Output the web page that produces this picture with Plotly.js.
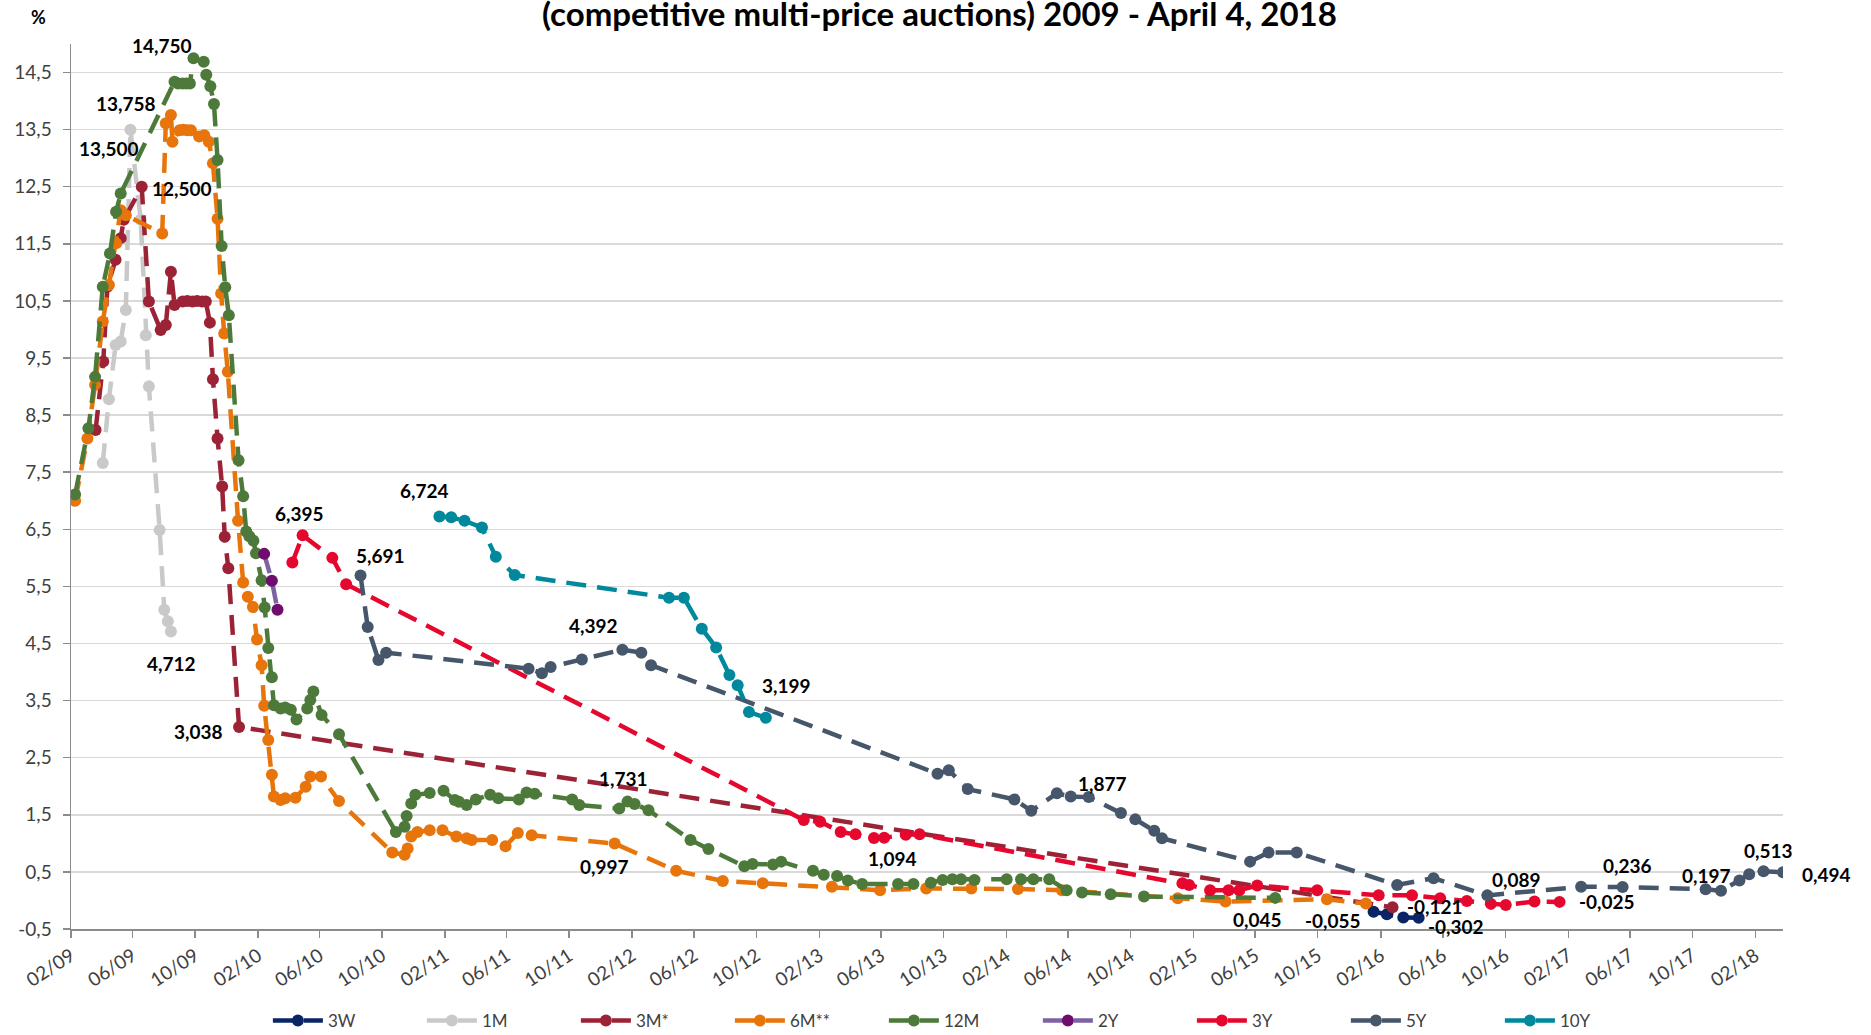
<!DOCTYPE html>
<html><head><meta charset="utf-8">
<script src="https://cdn.plot.ly/plotly-3.0.1.min.js"></script>
<style>html,body{margin:0;padding:0;background:#fff;} #chart{width:1871px;height:1035px;}</style>
</head><body><div id="chart"></div>
<script>
// ---------------- data ----------------
const seriesNames = ['3W','1M','3M*','6M**','12M','2Y','3Y','5Y','10Y'];

const dates3W = ['2016-01-18','2016-02-13','2016-03-16','2016-04-15'];
const values3W = [-0.197,-0.24,-0.30,-0.302];

const dates1M = ['2009-04-04','2009-04-16','2009-04-29','2009-05-09','2009-05-19','2009-05-28','2009-06-17','2009-06-27','2009-07-03','2009-07-24','2009-08-02','2009-08-09','2009-08-15'];
const values1M = [7.66,8.78,9.73,9.79,10.34,13.5,11.92,9.90,9.00,6.49,5.09,4.89,4.712];

const dates3M = ['2009-03-21','2009-04-05','2009-04-13','2009-04-29','2009-05-09','2009-05-15','2009-06-19','2009-07-03','2009-07-26','2009-08-05','2009-08-15','2009-08-22','2009-09-07','2009-09-16','2009-09-26','2009-10-05','2009-10-15','2009-10-22','2009-10-30','2009-11-05','2009-11-14','2009-11-23','2009-11-28','2009-12-05','2009-12-26','2016-02-24'];
const values3M = [8.24,9.44,10.75,11.22,11.60,11.92,12.50,10.49,9.99,10.08,11.01,10.43,10.49,10.50,10.49,10.50,10.49,10.49,10.12,9.13,8.09,7.25,6.37,5.82,3.038,-0.121];

const dates6M = ['2009-02-09','2009-03-05','2009-03-20','2009-04-04','2009-04-16','2009-04-30','2009-05-09','2009-05-19','2009-07-29','2009-08-05','2009-08-15','2009-08-18','2009-09-01','2009-09-08','2009-09-16','2009-09-23','2009-10-09','2009-10-19','2009-10-28','2009-11-05','2009-11-14','2009-11-21','2009-11-27','2009-12-04','2009-12-24','2010-01-03','2010-01-12','2010-01-22','2010-01-30','2010-02-08','2010-02-13','2010-02-21','2010-02-28','2010-03-04','2010-03-17','2010-03-26','2010-04-15','2010-05-05','2010-05-14','2010-06-04','2010-07-09','2010-10-21','2010-11-14','2010-11-20','2010-11-27','2010-12-09','2011-01-02','2011-01-27','2011-02-23','2011-03-15','2011-03-25','2011-05-04','2011-05-30','2011-06-23','2011-07-20','2011-12-29','2012-04-27','2012-07-27','2012-10-13','2013-02-25','2013-05-30','2013-08-28','2013-11-24','2014-02-23','2014-05-20','2015-01-01','2015-04-04','2015-10-19','2016-01-03'];
const values6M = [7.00,8.09,9.03,10.14,10.78,11.51,12.09,12.00,11.68,13.61,13.758,13.29,13.49,13.50,13.49,13.49,13.38,13.40,13.29,12.91,11.94,10.63,9.93,9.26,6.65,5.57,5.32,5.14,4.57,4.12,3.41,2.81,2.20,1.82,1.76,1.79,1.80,1.99,2.17,2.17,1.74,0.84,0.80,0.91,1.12,1.20,1.23,1.23,1.12,1.09,1.06,1.06,0.95,1.18,1.14,0.997,0.52,0.34,0.30,0.24,0.18,0.21,0.21,0.20,0.18,0.04,-0.02,0.02,-0.055];

const dates12M = ['2009-02-09','2009-03-07','2009-03-20','2009-04-04','2009-04-18','2009-04-30','2009-05-09','2009-08-22','2009-08-29','2009-09-07','2009-09-14','2009-09-21','2009-09-28','2009-10-18','2009-10-23','2009-10-31','2009-11-07','2009-11-14','2009-11-22','2009-11-29','2009-12-06','2009-12-25','2010-01-03','2010-01-09','2010-01-15','2010-01-23','2010-01-28','2010-02-08','2010-02-14','2010-02-21','2010-02-28','2010-03-04','2010-03-17','2010-03-26','2010-04-06','2010-04-17','2010-05-08','2010-05-14','2010-05-20','2010-06-05','2010-07-09','2010-10-28','2010-11-14','2010-11-18','2010-11-27','2010-12-05','2011-01-02','2011-01-29','2011-02-20','2011-02-28','2011-03-15','2011-04-02','2011-04-30','2011-05-16','2011-06-25','2011-07-10','2011-07-26','2011-10-07','2011-10-21','2012-01-07','2012-01-23','2012-02-06','2012-03-04','2012-05-25','2012-06-29','2012-09-07','2012-09-23','2012-11-02','2012-11-18','2013-01-19','2013-02-09','2013-03-07','2013-03-28','2013-04-25','2013-07-04','2013-08-03','2013-09-06','2013-09-29','2013-10-18','2013-11-04','2013-11-30','2014-02-01','2014-03-01','2014-03-25','2014-04-25','2014-05-29','2014-06-28','2014-08-23','2014-10-27','2015-07-10'];
const values12M = [7.11,8.27,9.17,10.75,11.33,12.06,12.38,14.34,14.31,14.31,14.31,14.31,14.75,14.69,14.46,14.26,13.95,12.97,11.46,10.74,10.25,7.71,7.08,6.46,6.38,6.30,6.08,5.61,5.13,4.42,3.91,3.42,3.36,3.38,3.34,3.17,3.36,3.51,3.66,3.25,2.91,1.20,1.29,1.48,1.70,1.85,1.88,1.92,1.76,1.73,1.67,1.77,1.85,1.79,1.77,1.89,1.87,1.77,1.67,1.61,1.731,1.69,1.58,1.06,0.90,0.60,0.64,0.63,0.68,0.52,0.45,0.43,0.35,0.29,0.29,0.29,0.31,0.36,0.37,0.37,0.36,0.37,0.37,0.37,0.37,0.18,0.14,0.11,0.07,0.045];

const dates2Y = ['2010-02-13','2010-02-28','2010-03-11'];
const values2Y = [6.07,5.60,5.09];

const dates3Y = ['2010-04-09','2010-04-29','2010-06-26','2010-07-23','2013-01-01','2013-02-02','2013-03-14','2013-04-12','2013-05-18','2013-06-07','2013-07-19','2013-08-15','2015-01-10','2015-01-23','2015-03-05','2015-04-10','2015-05-01','2015-06-05','2015-09-30','2016-01-28','2016-04-02','2016-05-27','2016-07-18','2016-09-03','2016-10-02','2016-11-27','2017-01-15'];
const values3Y = [5.92,6.395,6.00,5.54,1.41,1.38,1.20,1.16,1.094,1.10,1.15,1.16,0.30,0.27,0.18,0.18,0.18,0.26,0.18,0.09,0.09,0.04,-0.01,-0.06,-0.08,-0.02,-0.025];

const dates5Y = ['2010-08-20','2010-09-03','2010-09-24','2010-10-09','2011-07-14','2011-08-09','2011-08-26','2011-10-26','2012-01-13','2012-02-19','2012-03-09','2013-09-19','2013-10-11','2013-11-17','2014-02-16','2014-03-21','2014-05-10','2014-06-06','2014-07-11','2014-09-12','2014-10-10','2014-11-16','2014-12-01','2015-05-22','2015-06-27','2015-08-21','2016-03-04','2016-05-14','2016-08-27','2017-02-26','2017-05-18','2017-10-27','2017-11-26','2018-01-01','2018-01-20','2018-02-17','2018-03-27'];
const values5Y = [5.691,4.79,4.21,4.34,4.06,3.98,4.09,4.22,4.392,4.34,4.12,2.22,2.28,1.95,1.77,1.57,1.877,1.82,1.81,1.53,1.42,1.22,1.09,0.68,0.84,0.84,0.27,0.39,0.089,0.24,0.236,0.197,0.17,0.35,0.46,0.513,0.494];

const dates10Y = ['2011-01-21','2011-02-13','2011-03-11','2011-04-14','2011-05-11','2011-06-17','2012-04-13','2012-05-12','2012-06-16','2012-07-14','2012-08-09','2012-08-25','2012-09-16','2012-10-19'];
const values10Y = [6.724,6.71,6.65,6.53,6.02,5.70,5.30,5.30,4.76,4.43,3.95,3.77,3.30,3.199];

// labelled points: series and value shown
const labelSeries = ['12M','6M**','1M','3M*','1M','3M*','3Y','5Y','10Y','5Y','10Y','12M','6M**','3Y','5Y','12M','6M**','3M*','3W','5Y','3Y','5Y','5Y','5Y','5Y'];
const labelValues = [14.75,13.758,13.5,12.5,4.712,3.038,6.395,5.691,6.724,4.392,3.199,1.731,0.997,1.094,1.877,0.045,-0.055,-0.121,-0.302,0.089,-0.025,0.236,0.197,0.513,0.494];

const yTickValues = [-0.5,0.5,1.5,2.5,3.5,4.5,5.5,6.5,7.5,8.5,9.5,10.5,11.5,12.5,13.5,14.5];
const xTickDates = ['2009-02-01','2009-06-01','2009-10-01','2010-02-01','2010-06-01','2010-10-01','2011-02-01','2011-06-01','2011-10-01','2012-02-01','2012-06-01','2012-10-01','2013-02-01','2013-06-01','2013-10-01','2014-02-01','2014-06-01','2014-10-01','2015-02-01','2015-06-01','2015-10-01','2016-02-01','2016-06-01','2016-10-01','2017-02-01','2017-06-01','2017-10-01','2018-02-01'];
const xTickLabels = ['02/09','06/09','10/09','02/10','06/10','10/10','02/11','06/11','10/11','02/12','06/12','10/12','02/13','06/13','10/13','02/14','06/14','10/14','02/15','06/15','10/15','02/16','06/16','10/16','02/17','06/17','10/17','02/18'];

const titleText = '(competitive multi-price auctions) 2009 - April 4, 2018';

// ---------------- styles ----------------
const seriesData = {
  '3W':[dates3W,values3W], '1M':[dates1M,values1M], '3M*':[dates3M,values3M],
  '6M**':[dates6M,values6M], '12M':[dates12M,values12M], '2Y':[dates2Y,values2Y],
  '3Y':[dates3Y,values3Y], '5Y':[dates5Y,values5Y], '10Y':[dates10Y,values10Y]
};
const lineColors = {'3W':'#0A2466','1M':'#C9C9C9','3M*':'#9C2236','6M**':'#E8740C','12M':'#4D7A3A','2Y':'#7E62A4','3Y':'#E5072E','5Y':'#46566B','10Y':'#00899C'};
const markerColors = {'3W':'#0A2466','1M':'#C9C9C9','3M*':'#9C2236','6M**':'#E8740C','12M':'#4D7A3A','2Y':'#6E0D6E','3Y':'#E5072E','5Y':'#46566B','10Y':'#00899C'};
const FONT = 'Lato, Carlito, Calibri, "Open Sans", sans-serif';

const traces = seriesNames.map(n => ({
  type:'scatter', mode:'lines+markers', name:n,
  x: seriesData[n][0], y: seriesData[n][1],
  line:{color:lineColors[n], width:4.5, dash:'20px,11px'},
  marker:{color:markerColors[n], size:12, symbol:'circle'},
  hoverinfo:'x+y+name'
}));

const offsets = [[-31,13],[-45,11],[-21,-19],[40,-2],[1,-32],[-41,-5],[-3,22],[20,20],[-15,26],[-29,24],[21,32],[-4,23],[-10,-23],[19,-21],[46,10],[-18,-22],[-33,-17],[42,1],[37,-9],[29,16],[47,0],[5,21],[1,14],[5,21],[43,-2]];

const fmt = v => v.toFixed(3).replace('.', ',');
const annotations = labelSeries.map((s,i) => {
  const d = seriesData[s];
  const idx = d[1].indexOf(labelValues[i]);
  return {x:d[0][idx], y:d[1][idx], xref:'x', yref:'y', text:'<b>'+fmt(d[1][idx])+'</b>', showarrow:false,
    xshift:offsets[i][0], yshift:offsets[i][1], font:{family:FONT, size:19, color:'#000'}};
});
annotations.push({xref:'paper', yref:'paper', x:0.5, y:1.0, xanchor:'center', yanchor:'bottom', yshift:9, xshift:12,
  text:'<b>'+titleText+'</b>', showarrow:false, font:{family:FONT, size:33, color:'#000'}});
annotations.push({xref:'paper', yref:'paper', x:-0.019, y:1.031, xanchor:'center', yanchor:'middle',
  text:'<b>%</b>', showarrow:false, font:{family:FONT, size:18, color:'#000'}});

const layout = {
  width:1871, height:1035,
  margin:{l:71, r:88, t:44, b:106, autoexpand:false},
  paper_bgcolor:'#fff', plot_bgcolor:'#fff',
  font:{family:FONT, color:'#404040'},
  showlegend:true,
  legend:{orientation:'h', x:0.115, xanchor:'left', y:-0.104, yanchor:'middle', entrywidth:89, itemwidth:50,
    font:{family:FONT, size:17, color:'#404040'}, traceorder:'normal'},
  xaxis:{type:'date', range:['2009-02-01','2018-03-27'], tickvals:xTickDates, ticktext:xTickLabels,
    tickangle:-33, tickfont:{family:FONT, size:19, color:'#404040'}, showgrid:false, automargin:false,
    showline:true, linecolor:'#8C8C8C', linewidth:1.5, ticks:'outside', ticklen:7, tickcolor:'#8C8C8C', tickwidth:1.5, zeroline:false},
  yaxis:{range:[-0.5,15.0], tickvals:yTickValues, ticktext:yTickValues.map(v=>v.toFixed(1).replace('.',',')),
    tickfont:{family:FONT, size:19, color:'#404040'}, showgrid:true, gridcolor:'#D9D9D9', gridwidth:1.5, automargin:false,
    ticklabelstandoff:7,
    showline:true, linecolor:'#8C8C8C', linewidth:1.5, ticks:'outside', ticklen:7, tickcolor:'#8C8C8C', tickwidth:1.5, zeroline:false},
  annotations:annotations
};

Plotly.newPlot('chart', traces, layout, {displayModeBar:false, staticPlot:true});
</script>
</body></html>
